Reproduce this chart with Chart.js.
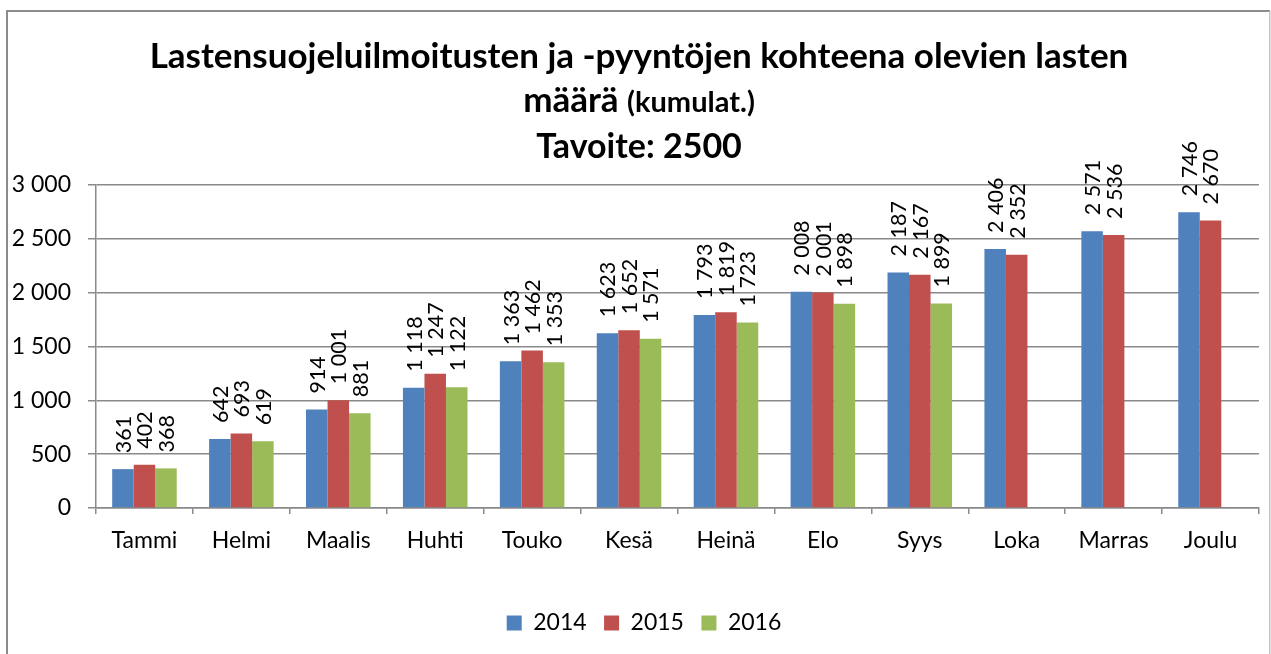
<!DOCTYPE html>
<html>
<head>
<meta charset="utf-8">
<script src="https://cdn.jsdelivr.net/npm/chart.js@4.4.0/dist/chart.umd.min.js"></script>
<style>
  html, body { margin: 0; padding: 0; background: #ffffff; overflow: hidden; }
  #wrap { position: relative; width: 1271px; height: 654px; }
</style>
</head>
<body>
<div id="wrap"><canvas id="c" width="1271" height="654"></canvas></div>
<script>
// Months (Finnish abbreviations) and yearly cumulative counts
const months = ['Tammi', 'Helmi', 'Maalis', 'Huhti', 'Touko', 'Kesä', 'Heinä', 'Elo', 'Syys', 'Loka', 'Marras', 'Joulu'];
const years = ['2014', '2015', '2016'];
const values2014 = [361, 642, 914, 1118, 1363, 1623, 1793, 2008, 2187, 2406, 2571, 2746];
const values2015 = [402, 693, 1001, 1247, 1462, 1652, 1819, 2001, 2167, 2352, 2536, 2670];
const values2016 = [368, 619, 881, 1122, 1353, 1571, 1723, 1898, 1899, null, null, null];
const yTickValues = [0, 500, 1000, 1500, 2000, 2500, 3000];

const titleLine1 = 'Lastensuojeluilmoitusten ja -pyyntöjen kohteena olevien lasten';
const titleLine2Main = 'määrä';
const titleLine2Note = '(kumulat.)';
const titleLine3 = 'Tavoite: 2500';

const FONT = 'Lato, "Open Sans", sans-serif';
const seriesColors = ['#4F81BD', '#C0504D', '#9BBB59'];
const gridColor = '#8a8a8a';

// "1 001" style grouping with spaces
const fmt = n => String(n).replace(/\B(?=(\d{3})+(?!\d))/g, ' ');

Chart.defaults.font.family = FONT;
Chart.defaults.color = '#000000';

// Outer frame of the chart box
const framePlugin = {
  id: 'frame',
  beforeDraw(chart) {
    const ctx = chart.ctx;
    ctx.save();
    ctx.strokeStyle = '#8c8c8c';
    ctx.lineWidth = 2;
    ctx.beginPath();
    ctx.moveTo(7, 700);
    ctx.lineTo(7, 11);
    ctx.lineTo(1270, 11);
    ctx.stroke();
    ctx.strokeStyle = '#c4c4c4';
    ctx.lineWidth = 1.5;
    ctx.beginPath();
    ctx.moveTo(1269.8, 11);
    ctx.lineTo(1269.8, 700);
    ctx.stroke();
    ctx.restore();
  }
};

// Centre the legend row under the framed box rather than the whole canvas
const legendShiftPlugin = {
  id: 'legendShift',
  afterLayout(chart) {
    const lg = chart.legend;
    if (lg) { lg.left += 14.5; lg.right += 14.5; }
  }
};

// Three-line heading; the second line mixes two font sizes
const headingPlugin = {
  id: 'heading',
  afterDraw(chart) {
    const ctx = chart.ctx;
    const cx = 639;
    ctx.save();
    ctx.fillStyle = '#000000';
    ctx.textBaseline = 'alphabetic';
    ctx.textAlign = 'center';
    ctx.font = 'bold 35px ' + FONT;
    ctx.fillText(titleLine1, cx, 68);
    ctx.font = 'bold 34px ' + FONT;
    ctx.fillText(titleLine3, cx, 158);

    const bigFont = 'bold 35px ' + FONT;
    const smallFont = 'bold 29px ' + FONT;
    ctx.font = bigFont;
    const wMain = ctx.measureText(titleLine2Main + ' ').width;
    ctx.font = smallFont;
    const wNote = ctx.measureText(titleLine2Note).width;
    const x = cx - (wMain + wNote) / 2;
    ctx.textAlign = 'left';
    ctx.font = bigFont;
    ctx.fillText(titleLine2Main + ' ', x, 112);
    ctx.font = smallFont;
    ctx.fillText(titleLine2Note, x + wMain, 112);
    ctx.restore();
  }
};

// Vertical value labels above each bar
const valueLabelPlugin = {
  id: 'valueLabels',
  afterDatasetsDraw(chart) {
    const ctx = chart.ctx;
    ctx.save();
    ctx.fillStyle = '#000000';
    ctx.font = '21.5px ' + FONT;
    ctx.textAlign = 'left';
    ctx.textBaseline = 'middle';
    chart.data.datasets.forEach((ds, i) => {
      const meta = chart.getDatasetMeta(i);
      meta.data.forEach((bar, j) => {
        const v = ds.data[j];
        if (v === null || v === undefined) return;
        ctx.save();
        ctx.translate(bar.x + 1, bar.y - 16);
        ctx.rotate(-Math.PI / 2);
        ctx.fillText(fmt(v), 0, 0);
        ctx.restore();
      });
    });
    ctx.restore();
  }
};

const seriesValues = [values2014, values2015, values2016];

new Chart(document.getElementById('c'), {
  type: 'bar',
  data: {
    labels: months,
    datasets: years.map((y, i) => ({
      label: y,
      data: seriesValues[i],
      backgroundColor: seriesColors[i],
      borderWidth: 0,
      categoryPercentage: 0.666,
      barPercentage: 1.0
    }))
  },
  options: {
    responsive: false,
    animation: false,
    devicePixelRatio: 1,
    layout: { padding: { left: 0, right: 12, top: 185, bottom: 9.5 } },
    plugins: {
      title: { display: false },
      tooltip: { enabled: false },
      legend: {
        position: 'bottom',
        labels: {
          boxWidth: 15,
          boxHeight: 15,
          padding: 17.5,
          color: '#000000',
          font: { size: 23, family: FONT }
        }
      }
    },
    scales: {
      x: {
        offset: true,
        grid: {
          offset: true,
          drawOnChartArea: false,
          drawTicks: true,
          tickLength: 6,
          color: gridColor,
          lineWidth: 1.5
        },
        border: { color: gridColor, width: 1.5 },
        ticks: {
          color: '#000000',
          padding: 13,
          maxRotation: 0,
          autoSkip: false,
          font: { size: 23, family: FONT }
        },
        afterFit(scale) { scale.height = 86; }
      },
      y: {
        min: 0,
        max: 3000,
        afterBuildTicks(scale) { scale.ticks = yTickValues.map(v => ({ value: v })); },
        grid: {
          color: gridColor,
          lineWidth: 1.5,
          drawTicks: true,
          tickLength: 8
        },
        border: { color: gridColor, width: 1.5 },
        ticks: {
          color: '#000000',
          padding: 17,
          font: { size: 23, family: FONT },
          callback: v => fmt(v)
        },
        afterFit(scale) { scale.width = 96; }
      }
    }
  },
  plugins: [framePlugin, legendShiftPlugin, headingPlugin, valueLabelPlugin]
});
</script>
</body>
</html>
